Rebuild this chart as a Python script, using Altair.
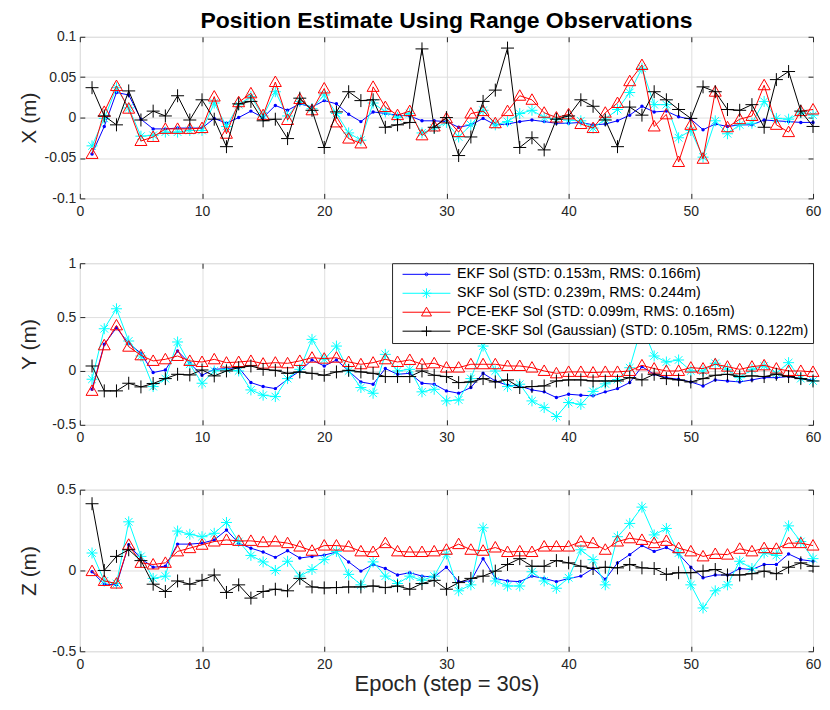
import altair as alt
import pandas as pd

epoch = list(range(1, 61))

# ---- X panel ----
ekf_x = [-0.045, -0.011, 0.031, 0.028, -0.002, -0.014, -0.014, -0.013, -0.013, -0.013,
         -0.001, -0.007, 0.000, 0.008, 0.000, 0.015, 0.009, 0.017, 0.013, 0.021,
         0.017, 0.004, -0.005, 0.007, 0.005, 0.003, 0.002, -0.004, -0.004, -0.005,
         -0.012, -0.009, -0.001, -0.009, -0.008, -0.005, -0.003, -0.005, -0.007, -0.007,
         -0.006, -0.009, -0.008, -0.004, 0.003, 0.014, 0.007, 0.008, 0.001, -0.002,
         -0.015, -0.008, -0.011, -0.009, -0.009, -0.003, -0.004, -0.005, -0.006, -0.006]
skf_x = [-0.035, -0.001, 0.037, 0.012, -0.023, -0.022, -0.018, -0.018, -0.016, -0.016,
         0.018, -0.011, 0.016, 0.026, 0.002, 0.032, 0.002, 0.020, 0.011, 0.028,
         0.005, -0.019, -0.028, 0.018, 0.007, 0.000, 0.005, -0.019, -0.013, -0.006,
         -0.024, -0.009, 0.009, -0.009, -0.005, 0.005, 0.009, 0.000, -0.002, -0.003,
         -0.004, -0.013, -0.002, 0.010, 0.031, 0.061, 0.016, 0.016, -0.025, -0.016,
         -0.049, -0.004, -0.020, -0.009, -0.007, 0.020, -0.001, -0.002, 0.006, 0.003]
pekf_x = [-0.045, 0.007, 0.039, 0.011, -0.029, -0.024, -0.014, -0.014, -0.014, -0.013,
          0.026, -0.020, 0.019, 0.030, 0.003, 0.044, -0.003, 0.023, 0.009, 0.036,
          -0.006, -0.026, -0.032, 0.038, 0.013, 0.003, 0.008, -0.022, -0.011, -0.001,
          -0.018, 0.005, 0.008, -0.007, 0.008, 0.027, 0.022, 0.006, 0.000, 0.004,
          -0.008, -0.013, 0.006, 0.018, 0.045, 0.065, -0.011, 0.004, -0.055, -0.009,
          -0.051, 0.032, -0.012, -0.002, 0.002, 0.040, -0.009, -0.018, 0.008, 0.010]
pskf_x = [0.037, 0.002, -0.009, 0.033, -0.003, 0.008, 0.002, 0.027, -0.003, 0.022,
          -0.002, -0.036, 0.017, 0.020, -0.004, -0.002, -0.026, 0.024, 0.009, -0.037,
          0.007, 0.032, 0.021, 0.022, -0.012, -0.009, -0.006, 0.085, -0.012, 0.000,
          -0.047, -0.024, 0.020, 0.034, 0.086, -0.037, -0.025, -0.040, -0.002, 0.002,
          0.022, 0.014, -0.003, -0.036, 0.013, 0.003, 0.032, 0.022, 0.010, -0.001,
          0.038, 0.032, 0.010, 0.009, 0.016, -0.012, 0.047, 0.057, 0.008, -0.011]

# ---- Y panel ----
ekf_y = [-0.170, 0.247, 0.401, 0.256, 0.164, -0.015, 0.009, 0.185, 0.071, -0.040,
         0.015, 0.022, 0.031, -0.108, -0.145, -0.164, -0.077, 0.000, 0.102, 0.046,
         0.102, 0.000, -0.102, -0.123, 0.022, -0.031, -0.022, -0.114, -0.123, -0.185,
         -0.207, -0.154, -0.022, -0.093, -0.133, -0.139, -0.176, -0.194, -0.247, -0.216,
         -0.225, -0.231, -0.194, -0.164, -0.108, 0.040, -0.031, -0.062, -0.077, -0.102,
         -0.139, -0.083, -0.093, -0.102, -0.083, -0.062, -0.062, -0.052, -0.071, -0.083]
skf_y = [-0.077, 0.392, 0.577, 0.278, 0.139, -0.145, -0.071, 0.269, 0.062, -0.114,
         0.000, 0.015, 0.000, -0.176, -0.225, -0.238, -0.071, 0.015, 0.293, 0.108,
         0.231, 0.000, -0.154, -0.207, 0.154, 0.000, 0.015, -0.194, -0.170, -0.278,
         -0.269, -0.071, 0.231, 0.000, -0.145, -0.123, -0.278, -0.340, -0.423, -0.293,
         -0.310, -0.190, -0.120, -0.080, 0.030, 0.420, 0.139, 0.083, 0.102, 0.000,
         0.000, 0.071, 0.015, -0.062, 0.015, 0.046, -0.022, 0.077, -0.071, -0.093]
pekf_y = [-0.185, 0.238, 0.423, 0.225, 0.145, 0.093, 0.108, 0.139, 0.093, 0.083,
          0.108, 0.077, 0.083, 0.093, 0.068, 0.077, 0.071, 0.093, 0.123, 0.114,
          0.123, 0.083, 0.062, 0.077, 0.108, 0.083, 0.102, 0.062, 0.071, 0.031,
          0.031, 0.062, 0.062, 0.062, 0.046, 0.046, 0.031, 0.000, -0.022, -0.009,
          -0.009, -0.015, -0.009, -0.009, 0.000, 0.052, 0.022, 0.000, 0.000, 0.031,
          0.022, 0.062, 0.040, 0.015, 0.040, 0.052, 0.022, 0.000, 0.000, -0.009]
pskf_y = [0.046, -0.185, -0.185, -0.114, -0.148, -0.117, -0.071, -0.031, -0.037, 0.009,
          -0.046, 0.000, 0.031, 0.046, 0.015, 0.006, -0.022, -0.009, -0.022, -0.040,
          -0.009, 0.006, -0.009, -0.022, -0.052, -0.052, -0.052, 0.000, -0.040, -0.052,
          -0.108, -0.102, -0.071, -0.102, -0.083, -0.154, -0.145, -0.139, -0.093, -0.083,
          -0.083, -0.093, -0.093, -0.093, -0.062, -0.083, -0.031, -0.071, -0.083, -0.102,
          -0.071, -0.040, -0.031, -0.052, -0.046, -0.052, -0.031, -0.052, -0.071, -0.093]

# ---- Z panel ----
ekf_z = [-0.008, -0.085, -0.089, 0.159, 0.073, 0.020, 0.026, 0.163, 0.163, 0.169,
         0.189, 0.250, 0.169, 0.138, 0.114, 0.081, 0.122, 0.077, 0.087, 0.095,
         0.114, 0.053, -0.004, 0.037, 0.012, -0.028, -0.014, -0.035, -0.041, 0.020,
         -0.069, -0.065, 0.073, -0.049, -0.065, -0.069, -0.035, -0.049, -0.069, -0.050,
         -0.035, 0.012, -0.055, 0.047, 0.098, 0.154, 0.118, 0.142, 0.102, 0.020,
         -0.045, -0.028, -0.028, 0.012, 0.006, 0.037, 0.037, 0.102, 0.067, 0.057]
skf_z = [0.108, -0.065, -0.081, 0.301, 0.087, -0.049, -0.035, 0.244, 0.224, 0.209,
         0.230, 0.297, 0.179, 0.093, 0.053, 0.000, 0.057, -0.035, 0.006, 0.067,
         0.118, -0.024, -0.089, 0.053, -0.035, -0.081, -0.035, -0.061, -0.035, 0.102,
         -0.126, -0.089, 0.264, -0.065, -0.096, -0.096, -0.008, -0.065, -0.110, -0.045,
         0.128, 0.067, -0.089, 0.209, 0.291, 0.392, 0.220, 0.260, 0.108, -0.089,
         -0.232, -0.126, -0.089, 0.057, 0.012, 0.108, 0.093, 0.276, 0.179, 0.073]
pekf_z = [-0.004, -0.065, -0.081, 0.159, 0.047, 0.037, 0.047, 0.118, 0.138, 0.159,
          0.179, 0.189, 0.183, 0.183, 0.175, 0.179, 0.169, 0.148, 0.122, 0.154,
          0.154, 0.148, 0.118, 0.114, 0.169, 0.118, 0.114, 0.114, 0.118, 0.128,
          0.163, 0.128, 0.122, 0.142, 0.114, 0.118, 0.114, 0.148, 0.148, 0.148,
          0.179, 0.169, 0.128, 0.179, 0.199, 0.189, 0.169, 0.183, 0.138, 0.118,
          0.087, 0.102, 0.098, 0.134, 0.118, 0.138, 0.134, 0.169, 0.169, 0.154]
pskf_z = [0.413, 0.000, 0.087, 0.128, 0.061, -0.085, -0.130, -0.065, -0.085, -0.061,
          -0.028, -0.136, -0.089, -0.171, -0.130, -0.116, -0.126, -0.049, -0.102, -0.108,
          -0.106, -0.102, -0.102, -0.096, -0.106, -0.096, -0.116, -0.081, -0.061, -0.116,
          -0.075, -0.049, -0.035, -0.004, 0.037, 0.073, 0.026, 0.026, 0.061, 0.047,
          0.026, 0.012, 0.020, 0.016, 0.037, 0.016, 0.012, -0.024, -0.014, -0.014,
          -0.004, 0.006, -0.028, -0.028, -0.020, -0.004, -0.020, 0.020, 0.047, 0.026]

legend_names = ["EKF Sol (STD: 0.153m, RMS: 0.166m)",
                "SKF Sol (STD: 0.239m, RMS: 0.244m)",
                "PCE-EKF Sol (STD: 0.099m, RMS: 0.165m)",
                "PCE-SKF Sol (Gaussian) (STD: 0.105m, RMS: 0.122m)"]
colors = ["#0000ff", "#00ffff", "#ff0000", "#000000"]
x_ticks = [0, 10, 20, 30, 40, 50, 60]

FONT = "Liberation Sans"
AX = "#262626"
GRID = "#dfdfdf"

STAR = "M-1,0L1,0M0,-1L0,1M-0.7,-0.7L0.7,0.7M-0.7,0.7L0.7,-0.7"
TRI = "M0,-1L1,0.75L-1,0.75Z"
PLUS = "M-1,0L1,0M0,-1L0,1"
DOT = "M-0.3,0A0.3,0.3 0 1,0 0.3,0A0.3,0.3 0 1,0 -0.3,0Z"
# legend glyphs: a line with the marker in its middle
LINE = "M-4.8,0L4.8,0"
legend_paths = [LINE + DOT, LINE + STAR, LINE + TRI, LINE + PLUS]

markers = [
    dict(shape="circle", filled=True, size=12),
    dict(shape=STAR, filled=False, size=121),
    dict(shape=TRI, filled=False, size=144),
    dict(shape=PLUS, filled=False, size=169),
]

W, H = 735, 162


def panel(series, ytitle, ydomain, yticks, xtitle=None, with_legend=False):
    df = pd.DataFrame({"epoch": epoch, "s0": series[0], "s1": series[1],
                       "s2": series[2], "s3": series[3]})
    xs = alt.Scale(domain=[0, 60], nice=False, zero=False)
    ys = alt.Scale(domain=ydomain, nice=False, zero=False)
    xaxis_kw = dict(values=x_ticks, grid=True, gridColor=GRID, domain=False,
                    ticks=True, tickSize=5, tickColor=AX, offset=-5,
                    labelPadding=6, labelFont=FONT, labelFontSize=14,
                    labelColor=AX, labelFlush=False, labelExpr="datum.value + ''")
    if xtitle:
        xaxis_kw.update(title=xtitle, titleFont=FONT, titleFontSize=22,
                        titleFontWeight="normal", titleColor=AX, titlePadding=2)
    else:
        xaxis_kw.update(title=None)
    xaxis = alt.Axis(**xaxis_kw)
    yaxis = alt.Axis(values=yticks, grid=True, gridColor=GRID, domain=False,
                     ticks=True, tickSize=5, tickColor=AX, offset=-5,
                     labelPadding=4, labelFont=FONT, labelFontSize=14,
                     labelColor=AX, labelFlush=False, labelExpr="datum.value + ''",
                     title=ytitle, titleFont=FONT, titleFontSize=21,
                     titleFontWeight="normal", titleColor=AX,
                     titleX=-55, titleY=H / 2, titleBaseline="middle",
                     titleAlign="center")
    layers = []
    for i in range(4):
        base = alt.Chart(df).encode(
            x=alt.X("epoch:Q", scale=xs, axis=xaxis),
            y=alt.Y(f"s{i}:Q", scale=ys, axis=yaxis),
        )
        layers.append(base.mark_line(color=colors[i], strokeWidth=1))
        layers.append(base.mark_point(color=colors[i], strokeWidth=1,
                                      opacity=1, **markers[i]))
    if with_legend:
        leg_kw = dict(orient="top-right", offset=0, padding=4,
                      fillColor="white", strokeColor=AX, title=None,
                      labelFont=FONT, labelFontSize=14.25, labelColor="#000",
                      labelLimit=0, symbolSize=100, symbolStrokeWidth=1,
                      symbolOffset=23.4, labelOffset=23.4, rowPadding=4)
        leg = alt.Chart(df).mark_point(filled=False, strokeWidth=1, opacity=1).encode(
            x=alt.X("epoch:Q", scale=xs, axis=xaxis),
            y=alt.Y("s0:Q", scale=ys, axis=yaxis),
            color=alt.Color("name:N", scale=alt.Scale(domain=legend_names, range=colors),
                            legend=alt.Legend(**leg_kw)),
            shape=alt.Shape("name:N", scale=alt.Scale(domain=legend_names, range=legend_paths),
                            legend=alt.Legend(**leg_kw)),
        ).transform_filter("false")
        layers.append(leg)
    inner = alt.layer(*layers)
    frame = alt.Chart(df).mark_point(opacity=0).encode(
        x=alt.X("epoch:Q", scale=xs,
                axis=alt.Axis(orient="top", values=x_ticks, labels=False, domain=False,
                              grid=False, tickSize=5, tickColor=AX, offset=-5, title=None)),
        y=alt.Y("s0:Q", scale=ys,
                axis=alt.Axis(orient="right", values=yticks, labels=False, domain=False,
                              grid=False, tickSize=5, tickColor=AX, offset=-5, title=None)),
    )
    return alt.layer(inner, frame).resolve_axis(x="independent", y="independent").properties(
        width=W, height=H)


p1 = panel([ekf_x, skf_x, pekf_x, pskf_x], "X (m)", [-0.1, 0.1],
           [-0.1, -0.05, 0, 0.05, 0.1]).properties(
    title=alt.TitleParams("Position Estimate Using Range Observations", font=FONT,
                          fontSize=23, fontWeight="bold", color="#000", offset=-3,
                          anchor="middle", frame="group"))
p2 = panel([ekf_y, skf_y, pekf_y, pskf_y], "Y (m)", [-0.5, 1],
           [-0.5, 0, 0.5, 1], with_legend=True)
p3 = panel([ekf_z, skf_z, pekf_z, pskf_z], "Z (m)", [-0.5, 0.5],
           [-0.5, 0, 0.5], xtitle="Epoch (step = 30s)")

chart = alt.vconcat(p1, p2, p3, spacing=36).resolve_scale(
    x="independent", y="independent", color="independent", shape="independent"
).resolve_legend(color="independent", shape="independent").properties(
    padding={"left": 10, "top": 0, "right": 0, "bottom": 0}
).configure_view(stroke=AX, strokeWidth=1).configure(font=FONT)

chart.save("out.html", embed_options={"renderer": "svg", "actions": False})
